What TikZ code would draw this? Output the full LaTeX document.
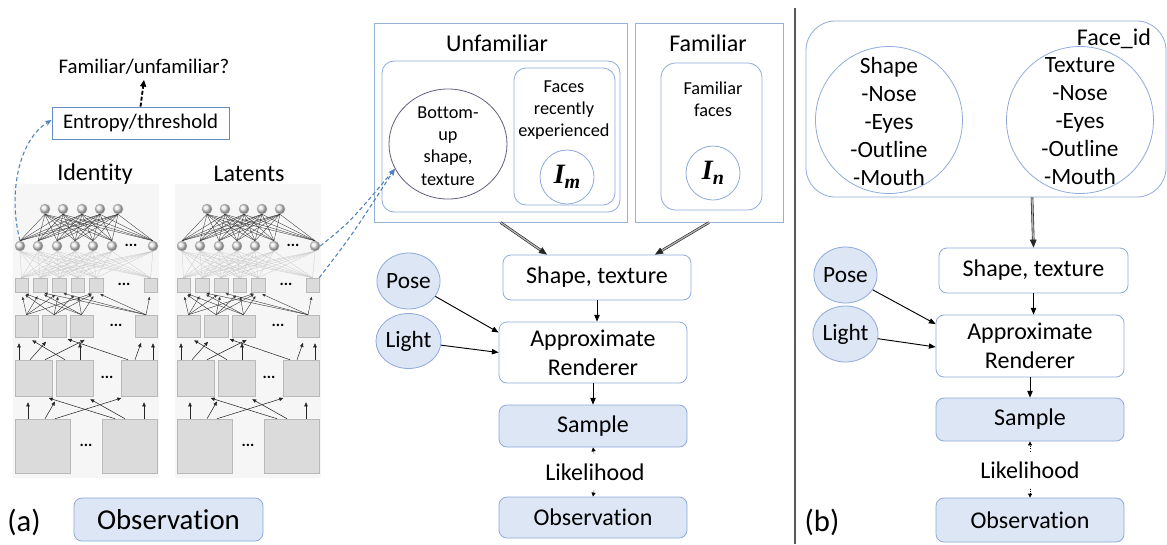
\documentclass[tikz,border=0pt]{standalone}
\usepackage{fontspec}
\setmainfont[Ligatures=NoCommon]{Carlito}
\newfontfamily\serifb{Liberation Serif}
\usetikzlibrary{arrows.meta,calc,shapes.geometric}
\definecolor{bd}{RGB}{143,170,220}
\definecolor{fb}{RGB}{220,230,244}
\definecolor{ob}{RGB}{149,179,215}
\definecolor{eb}{RGB}{100,140,195}
\definecolor{dashb}{RGB}{79,129,189}
\definecolor{elb}{RGB}{95,95,125}
\newcommand\fs[2]{\fontsize{#1}{#2}\selectfont}
\newcommand\latvar[1]{{\serifb\bfseries\itshape I\raisebox{-0.35ex}{\fs{15}{15}#1}}}
\tikzset{
  sz/.style 2 args={minimum width={#1*0.75pt},minimum height={#2*0.75pt}},
  rbox/.style={draw=bd, fill=white, rounded corners=6pt, line width=0.6pt, font=\fs{18}{22}, inner sep=0pt, align=center},
  fbox/.style={rbox, fill=fb},
  ell/.style={ellipse, draw=bd, fill=fb, line width=0.6pt, inner sep=0pt, font=\fs{17.5}{21}},
  con/.style={-{Triangle[length=5pt,width=4pt]}, line width=0.7pt, black},
  dbl/.style={draw=gray!30!black, double=gray!60, double distance=1pt, line width=0.45pt, -{Triangle[length=6pt,width=5pt]}},
  dotar/.style={densely dotted, -{Triangle[length=3pt,width=3pt]}, line width=0.6pt, shorten <=6pt},
  bdash/.style={dash pattern=on 3pt off 2pt, draw=dashb, line width=0.8pt, -{Stealth[length=5pt,width=4pt]}},
  nc/.style={circle, draw=gray!60, ball color=gray!20, minimum size={10*0.75pt}, inner sep=0pt},
  sq/.style={draw=gray!55, fill=gray!28, inner sep=0pt},
  nl/.style={black!80, line width=0.25pt},
  gl/.style={gray!45, line width=0.2pt},
  na/.style={-{Triangle[length=3pt,width=2.6pt]}, black!85, line width=0.4pt, shorten >=4.5pt},
  nb/.style={-{Triangle[length=2.2pt,width=2pt]}, black!80, line width=0.3pt, shorten >=3.5pt},
  ndots/.style={font=\fs{12}{12}\bfseries, inner sep=0pt},
  lcirc/.style={circle, draw=bd, line width=0.6pt, minimum size={54*0.75pt}, inner sep=0pt, font=\fs{21}{21}}
}
\newcommand\netw[1]{%
  \fill[gray!7] (13,184) rectangle (159,478);
  \foreach \x [count=\i] in {45,63,82,100,118} \node[nc] (#1t\i) at (\x,209) {};
  \foreach \x [count=\i] in {20,38,57,75,93,112,153} \node[nc] (#1c\i) at (\x,246) {};
  \node[ndots] (#1d1) at (131,245) {...};
  \foreach \x/\w [count=\i] in {15/13,33/14,52/14,71/13,89/14,144/13}
     \node[sq, sz={\w}{14}] (#1s\i) at ({\x+\w/2},285) {};
  \node[ndots] (#1d2) at (124,284) {...};
  \foreach \x/\w [count=\i] in {15/23,42/24,70/23,135/22}
     \node[sq, sz={\w}{22}] (#1r\i) at ({\x+\w/2},326) {};
  \node[ndots] (#1d3) at (116,325) {...};
  \foreach \x/\w [count=\i] in {15/37,56/37,121/36}
     \node[sq, sz={\w}{36}] (#1q\i) at ({\x+\w/2},378) {};
  \node[ndots] (#1d4) at (107,377) {...};
  \foreach \x/\w [count=\i] in {15/55,102/55}
     \node[sq, sz={\w}{54}] (#1p\i) at ({\x+\w/2},446) {};
  \node[ndots] (#1d5) at (86,445) {...};
  \foreach \i in {1,...,5}{\foreach \j in {1,...,7}{\draw[nl] (#1t\i.south) -- (#1c\j.north);}}
  \foreach \i in {1,...,7}{\foreach \j in {1,...,6}{\draw[gl] (#1c\i.south) -- (#1s\j.north);}}
  \foreach \a/\b in {1/1,1/2,1/3,1/5,2/1,2/3,2/4,2/5,3/2,3/4,3/5,3/1,4/6,4/3,4/5,4/2}
     \draw[nb] (#1r\a.north) -- (#1s\b.south);
  \draw[na] ($(#1q1.north)+(-14.5,0)$) -- ($(#1r1.south)+(-7.5,0)$);
  \draw[na] ($(#1q3.north)+(14,0)$) -- ($(#1r4.south)+(7,0)$);
  \draw[na] ($(#1q1.north)+(-3.5,0)$) -- ($(#1r2.south)+(-4,0)$);
  \draw[na] ($(#1q1.north)+(11.5,0)$) -- ($(#1r3.south)+(8.5,0)$);
  \draw[na] ($(#1q2.north)+(-9.5,0)$) -- ($(#1r1.south)+(0.5,0)$);
  \draw[na] ($(#1q2.north)+(5.5,0)$) -- ($(#1r3.south)+(-1.5,0)$);
  \draw[na] ($(#1q3.north)+(-11,0)$) -- ($(#1r2.south)+(8,0)$);
  \draw[na] ($(#1q3.north)+(-4,0)$) -- ($(#1r4.south)+(-3,0)$);
  \draw[na] ($(#1p1.north)+(-14.5,0)$) -- ($(#1q1.south)+(-5.5,0)$);
  \draw[na] ($(#1p2.north)+(14.5,0)$) -- ($(#1q3.south)+(5,0)$);
  \draw[na] ($(#1p1.north)+(2.5,0)$) -- ($(#1q2.south)+(-16.5,0)$);
  \draw[na] ($(#1p1.north)+(12.5,0)$) -- ($(#1q3.south)+(-12,0)$);
  \draw[na] ($(#1p2.north)+(-14.5,0)$) -- ($(#1q1.south)+(9.5,0)$);
  \draw[na] ($(#1p2.north)+(-4.5,0)$) -- ($(#1q2.south)+(10.5,0)$);
}
\begin{document}
\begin{tikzpicture}[x=0.75pt,y=-0.75pt]
\useasboundingbox (0,0) rectangle (1167,544);
\fill[white] (0,0) rectangle (1167,544);

% ---------- panel (a), left ----------
\node[font=\fs{15.6}{18}, inner sep=0pt] (famq) at (144,67) {Familiar/unfamiliar?};
\node[draw=eb, line width=0.6pt, sz={177}{32}, font=\fs{15.6}{18}, inner sep=0pt] (ent) at (140.5,123) {Entropy/threshold};
\draw[line width=1.4pt, dash pattern=on 3pt off 1.5pt, -{Triangle[length=5pt,width=4.5pt]}] (ent.north) -- ($(famq.south)+(0,5)$);
\node[font=\fs{18}{22}, inner sep=0pt] (idl) at (95,174) {Identity};
\node[font=\fs{18}{22}, inner sep=0pt] (lal) at (249,174) {Latents};
\netw{L}
\begin{scope}[shift={(162,0)}]
\netw{R}
\end{scope}
\node[font=\fs{23}{26}, inner sep=0pt] (la) at (24,522) {(a)};
\node[fbox, sz={189}{43}, font=\fs{21.6}{24}] (obs0) at (168.5,519.5) {Observation};

% ---------- middle ----------
\node[draw=ob, line width=0.7pt, sz={253}{199}, inner sep=0pt] (unf) at (500.5,122.5) {};
\node[font=\fs{18}{22}, inner sep=0pt] (unfl) at (497,43) {Unfamiliar};
\node[draw=bd, rounded corners=9pt, line width=0.6pt, sz={238}{151}, inner sep=0pt] (unfi) at (501,136.5) {};
\node[ellipse, draw=elb, line width=0.6pt, sz={118}{110}, inner sep=0pt] (bu) at (448,144) {};
\node[font=\fs{13.7}{16.6}, align=center, inner sep=0pt] (butx) at (448,146) {Bottom-\\up\\shape,\\texture};
\node[draw=bd, rounded corners=9pt, line width=0.6pt, sz={101}{137}, inner sep=0pt] (recb) at (564.5,136.5) {};
\node[font=\fs{13.7}{16.6}, align=center, inner sep=0pt] (rectx) at (564,110) {Faces\\recently\\experienced};
\node[lcirc] (imc) at (567,177) {\latvar{m}};
\node[draw=ob, line width=0.7pt, sz={148}{199}, inner sep=0pt] (fam) at (709,122.5) {};
\node[font=\fs{18}{22}, inner sep=0pt] (faml) at (708,43) {Familiar};
\node[draw=bd, rounded corners=11pt, line width=0.6pt, sz={101}{147}, inner sep=0pt] (fami) at (711.5,136.5) {};
\node[font=\fs{13.7}{16.6}, align=center, inner sep=0pt] (famt) at (713,99) {Familiar\\faces};
\node[lcirc] (inc) at (713,173) {\latvar{n}};

\node[rbox, sz={188}{45}] (st1) at (597,277.5) {Shape, texture};
\node[rbox, sz={188}{61}] (ar1) at (593,352.5) {Approximate\\Renderer};
\node[fbox, sz={188}{42}] (sa1) at (593,426) {Sample};
\node[font=\fs{18}{22}, inner sep=1.5pt] (li1) at (595,472) {Likelihood};
\node[fbox, sz={188}{41}] (ob1) at (593,517.5) {Observation};
\node[ell, sz={63}{56}] (po1) at (408.5,281) {Pose};
\node[ell, sz={63}{55}] (lt1) at (408.5,341) {Light};

\draw[dbl] (unf.south) -- ($(st1.north)+(-50,0)$);
\draw[dbl] (fam.south) -- ($(st1.north)+(58,0)$);
\draw[con] (st1.south) -- (st1.south |- ar1.north);
\draw[con] (ar1.south) -- (sa1.north);
\draw[con] (po1) -- ($(ar1.west)+(0,-20)$);
\draw[con] (lt1) -- (ar1.west);
\draw[dotar] (li1.north) -- (sa1.south);
\draw[dotar] (li1.south) -- (ob1.north);

\draw[bdash] (Lc1.north) .. controls (8,195) and (18,140) .. ($(ent.west)+(0,-3)$);
\draw[bdash] (Rc7.east) .. controls (350,222) .. (bu.205);
\draw[bdash] (Rs6.north east) .. controls (352,235) .. (bu.205);

% ---------- separator ----------
\draw[gray!70!black, line width=0.8pt] (795,8) -- (795,544);

% ---------- panel (b), right ----------
\node[draw=bd, rounded corners=22pt, line width=0.6pt, sz={360}{176}, inner sep=0pt] (face) at (986,109) {};
\node[font=\fs{18}{22}, inner sep=0pt] (fid) at (1114,39) {Face\_id};
\node[circle, draw=bd, line width=0.6pt, minimum size={147*0.75pt}, inner sep=0pt] (shc) at (889,120) {};
\node[circle, draw=bd, line width=0.6pt, minimum size={147*0.75pt}, inner sep=0pt] (txc) at (1080,120) {};
\node[font=\fs{17.5}{21}, align=center, inner sep=0pt] (sht) at (889,121) {Shape\\-Nose\\-Eyes\\-Outline\\-Mouth};
\node[font=\fs{17.5}{21}, align=center, inner sep=0pt] (txt) at (1080,121) {Texture\\-Nose\\-Eyes\\-Outline\\-Mouth};

\node[rbox, sz={189}{45}] (st2) at (1033.5,270.5) {Shape, texture};
\node[rbox, sz={188}{62}] (ar2) at (1030,346) {Approximate\\Renderer};
\node[fbox, sz={188}{43}] (sa2) at (1030,419.5) {Sample};
\node[font=\fs{18}{22}, inner sep=1.5pt] (li2) at (1030,470) {Likelihood};
\node[fbox, sz={188}{44}] (ob2) at (1030,520) {Observation};
\node[ell, sz={63}{56}] (po2) at (845.5,275) {Pose};
\node[ell, sz={63}{56}] (lt2) at (845.5,334) {Light};
\node[font=\fs{23}{26}, inner sep=0pt] (lb) at (822,522) {(b)};

\draw[dbl] ($(face.south)+(46,0)$) -- (st2.north);
\draw[con] (st2.south) -- (st2.south |- ar2.north);
\draw[con] (ar2.south) -- (sa2.north);
\draw[con] (po2) -- ($(ar2.west)+(0,-22)$);
\draw[con] (lt2) -- ($(ar2.west)+(0,1)$);
\draw[dotar] (li2.north) -- (sa2.south);
\draw[dotar] (li2.south) -- (ob2.north);
\end{tikzpicture}
\end{document}
